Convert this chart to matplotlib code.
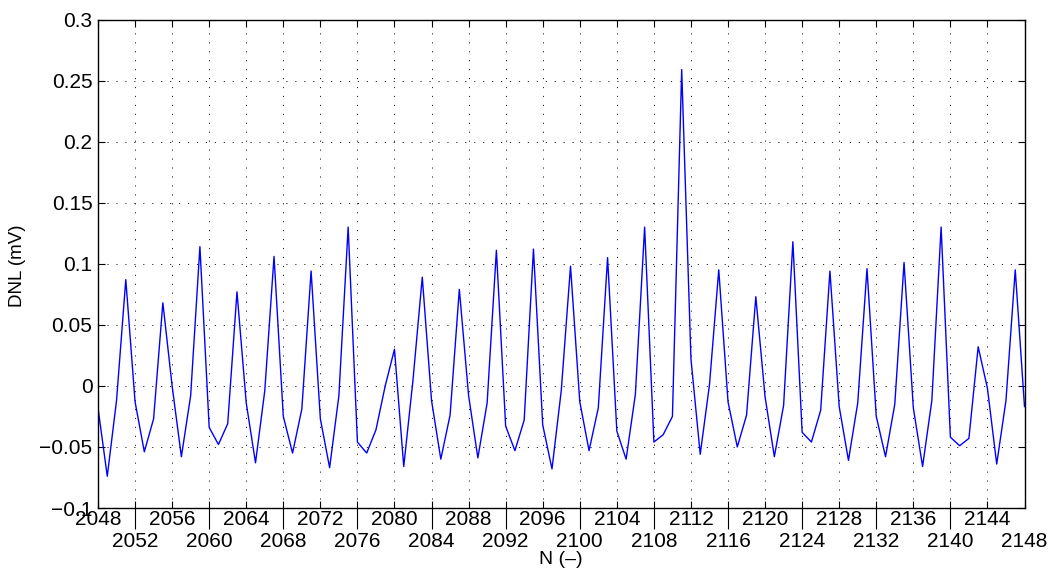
import numpy as np
import matplotlib
matplotlib.use("Agg")
import matplotlib.pyplot as plt
from matplotlib.ticker import FixedLocator, FuncFormatter

plt.rcParams['font.family'] = ['Liberation Sans', 'DejaVu Sans']

n_start = 2048
dnl = [
    -0.018, -0.074, -0.012, 0.087, -0.013, -0.054, -0.027, 0.068, 0.000, -0.058,
    -0.008, 0.114, -0.034, -0.048, -0.031, 0.077, -0.014, -0.063, -0.004, 0.106,
    -0.025, -0.055, -0.019, 0.094, -0.027, -0.067, -0.008, 0.130, -0.046, -0.055,
    -0.036, 0.000, 0.030, -0.066, 0.005, 0.089, -0.012, -0.060, -0.024, 0.079,
    -0.008, -0.059, -0.014, 0.111, -0.033, -0.053, -0.028, 0.112, -0.032, -0.068,
    -0.004, 0.098, -0.013, -0.053, -0.018, 0.105, -0.037, -0.060, -0.007, 0.130,
    -0.046, -0.040, -0.025, 0.259, 0.022, -0.056, 0.001, 0.095, -0.013, -0.050,
    -0.024, 0.073, -0.009, -0.058, -0.016, 0.118, -0.038, -0.046, -0.020, 0.094,
    -0.017, -0.061, -0.014, 0.096, -0.025, -0.058, -0.015, 0.101, -0.018, -0.066,
    -0.012, 0.130, -0.042, -0.049, -0.043, 0.032, -0.002, -0.064, -0.012, 0.095,
    -0.017,
]
n_vals = np.arange(n_start, n_start + len(dnl))

upper_ticks = list(range(2048, 2145, 8))
lower_ticks = list(range(2052, 2149, 8))
y_ticks = [-0.1, -0.05, 0, 0.05, 0.1, 0.15, 0.2, 0.25, 0.3]

W, H = 1051, 569
fig = plt.figure(figsize=(W / 100, H / 100), dpi=100)
ax = fig.add_axes([98 / W, 1 - 508 / H, (1024.5 - 98) / W, (508 - 19.5) / H])

ax.plot(n_vals, dnl, color=(0, 0, 1), lw=1.0)

ax.set_xlim(2048, 2148)
ax.set_ylim(-0.1, 0.3)

all_x = sorted(upper_ticks + lower_ticks)
ax.xaxis.set_major_locator(FixedLocator(all_x))
ax.xaxis.set_major_formatter(FuncFormatter(
    lambda v, p: f"{int(round(v))}" if int(round(v)) in upper_ticks else ""))
ax.yaxis.set_major_locator(FixedLocator(y_ticks))
ax.yaxis.set_major_formatter(FuncFormatter(
    lambda v, p: ("%g" % v).replace("-", "\u2212")))

ax.tick_params(axis='both', which='major', direction='in', length=5, width=0.8,
               top=True, right=True, labelsize=15, colors='black')
ax.tick_params(axis='x', pad=1.5)
ax.tick_params(axis='y', pad=4)

ax.grid(True, which='major', color='0.15', linestyle=(0, (1.2, 8)), linewidth=0.7)

for s in ax.spines.values():
    s.set_linewidth(1.0)
    s.set_color('black')

# lower row of x labels with long outward ticks
sec = ax.secondary_xaxis('bottom')
sec.xaxis.set_major_locator(FixedLocator(lower_ticks))
sec.xaxis.set_major_formatter(FuncFormatter(lambda v, p: f"{int(round(v))}"))
sec.tick_params(axis='x', direction='out', length=15, width=0.8, pad=2, labelsize=15)
sec.spines['bottom'].set_visible(False)
fig.canvas.draw()
ticks = sec.xaxis.get_major_ticks()
if ticks:
    ticks[-1].tick1line.set_visible(False)

fig.text(561 / W, 1 - 560 / H, "N (\u2013)", fontsize=14, ha='center', va='center')
fig.text(18 / W, 1 - 266 / H, "DNL (mV)", fontsize=13.5, ha='center', va='center',
         rotation=90)

fig.savefig("out.png", dpi=100)
